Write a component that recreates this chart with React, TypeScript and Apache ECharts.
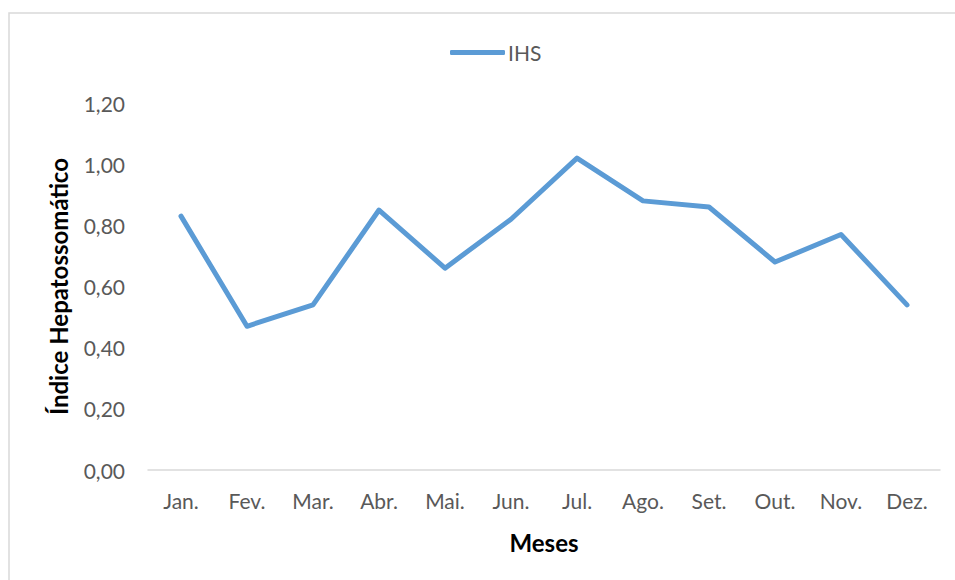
import React, { useEffect, useRef } from "react";
import * as echarts from "echarts";

// Monthly hepatosomatic index (IHS)
const months = ["Jan.", "Fev.", "Mar.", "Abr.", "Mai.", "Jun.", "Jul.", "Ago.", "Set.", "Out.", "Nov.", "Dez."];
const ihsValues = [0.83, 0.47, 0.54, 0.85, 0.66, 0.82, 1.02, 0.88, 0.86, 0.68, 0.77, 0.54];
const seriesName = "IHS";
const xTitle = "Meses";
const yTitle = "Índice Hepatossomático";

const FONT = "Lato, 'Open Sans', sans-serif";
const GRAY_TEXT = "#595959";
const LINE_COLOR = "#5b9bd5";

export default function App() {
  const ref = useRef<HTMLDivElement>(null);

  useEffect(() => {
    if (!ref.current) return;
    const chart = echarts.init(ref.current, undefined, { renderer: "svg" });
    chart.setOption({
      animation: false,
      backgroundColor: "#ffffff",
      textStyle: { fontFamily: FONT },
      graphic: [
        {
          type: "rect",
          shape: { x: 9, y: 13, width: 980, height: 620 },
          style: { fill: "none", stroke: "#d9d9d9", lineWidth: 1.5 },
          silent: true,
        },
      ],
      legend: {
        data: [seriesName],
        top: 37,
        left: 445,
        itemWidth: 55,
        itemHeight: 5,
        icon: "roundRect",
        itemGap: 4,
        textStyle: { color: GRAY_TEXT, fontSize: 21, fontFamily: FONT, padding: [0, 0, 0, -2] },
      },
      grid: { left: 148, right: 15, top: 103, bottom: 110, containLabel: false },
      xAxis: {
        type: "category",
        data: months,
        boundaryGap: true,
        name: xTitle,
        nameLocation: "middle",
        nameGap: 60,
        nameTextStyle: { color: "#000000", fontSize: 24, fontWeight: "bold", fontFamily: FONT },
        axisLine: { show: true, lineStyle: { color: "#d9d9d9", width: 1.5 } },
        axisTick: { show: false },
        axisLabel: { color: GRAY_TEXT, fontSize: 21, margin: 20, fontFamily: FONT, interval: 0 },
        splitLine: { show: false },
      },
      yAxis: {
        type: "value",
        min: 0,
        max: 1.2,
        interval: 0.2,
        name: yTitle,
        nameLocation: "middle",
        nameRotate: 90,
        nameGap: 78,
        nameTextStyle: { color: "#000000", fontSize: 24, fontWeight: "bold", fontFamily: FONT },
        axisLine: { show: false },
        axisTick: { show: false },
        splitLine: { show: false },
        axisLabel: {
          color: GRAY_TEXT,
          fontSize: 21,
          margin: 23,
          fontFamily: FONT,
          formatter: (v: number) => v.toFixed(2).replace(".", ","),
        },
      },
      series: [
        {
          name: seriesName,
          type: "line",
          data: ihsValues,
          symbol: "none",
          lineStyle: { color: LINE_COLOR, width: 5, cap: "round", join: "round" },
          itemStyle: { color: LINE_COLOR },
        },
      ],
    });
    return () => chart.dispose();
  }, []);

  return (
    <div
      ref={ref}
      style={{ position: "fixed", left: 0, top: 0, width: 955, height: 580 }}
    />
  );
}
